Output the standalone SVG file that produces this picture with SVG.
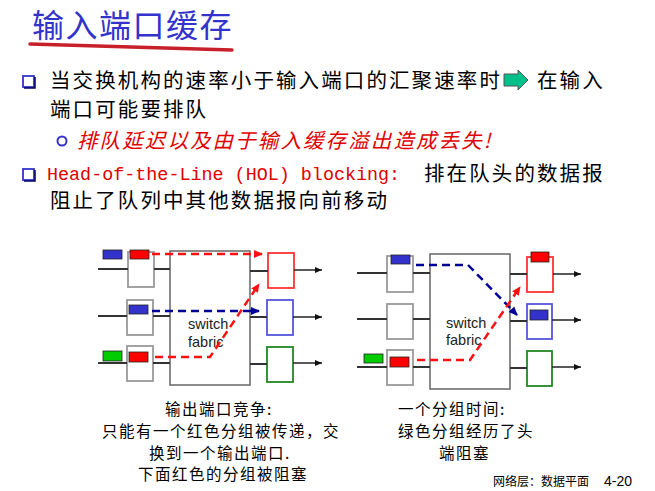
<svg xmlns="http://www.w3.org/2000/svg" width="655" height="491" viewBox="0 0 655 491">
<style>
.cjk{font-family:"Noto Sans CJK SC","Noto Sans CJK JP",sans-serif;}
.body{font-size:20.5px;letter-spacing:2.1px;fill:#000;}
.red{fill:#e00000;}
.cap{font-size:15.5px;letter-spacing:1.5px;fill:#000;}
.mono{font-family:"Liberation Mono","DejaVu Sans Mono",monospace;font-size:18.4px;fill:#e00000;letter-spacing:0;}
.lbl{font-family:"Liberation Sans",Arial,sans-serif;font-size:14.5px;fill:#222;}
.port{stroke:#333;stroke-width:2;fill:none;}
.inbox{fill:#fff;stroke:#999;stroke-width:1.8;}
.fab{fill:#fff;stroke:#666;stroke-width:1.5;}
.out{fill:none;stroke:#222;stroke-width:1.5;}
.dr{fill:none;stroke:#ff1010;stroke-width:2.5;stroke-dasharray:8,5;}
.db{fill:none;stroke:#000099;stroke-width:2.5;stroke-dasharray:8,5;}
.pb{fill:#3333cc;stroke:#222;stroke-width:0.8;}
.pr{fill:#ff0000;stroke:#222;stroke-width:0.8;}
.pg{fill:#00cc00;stroke:#222;stroke-width:0.8;}
.bul{fill:#fff;stroke:#3333cc;stroke-width:1.8;}
</style>
<defs>
<marker id="ak" markerWidth="8" markerHeight="8" refX="7" refY="4" orient="auto" markerUnits="userSpaceOnUse"><path d="M0,1 L7,4 L0,7 Z" fill="#111"/></marker>
<marker id="ar" markerWidth="10" markerHeight="10" refX="8" refY="5" orient="auto" markerUnits="userSpaceOnUse"><path d="M0,1 L9,5 L0,9 Z" fill="#ff1010"/></marker>
<marker id="ab" markerWidth="10" markerHeight="10" refX="8" refY="5" orient="auto" markerUnits="userSpaceOnUse"><path d="M0,1 L9,5 L0,9 Z" fill="#000099"/></marker>
</defs>
<rect width="655" height="491" fill="#fff"/>

<g id="title">
<text x="32" y="37" class="cjk" font-size="32" letter-spacing="1.5" fill="#3333cc">输入端口缓存</text>
<path d="M30,44 Q130,47 232,50" fill="none" stroke="#c8202a" stroke-width="3.5" stroke-linecap="round"/>
</g>

<g id="bullets">
<rect x="23" y="76" width="11" height="11" class="bul"/>
<path d="M35,77 V88 H24" fill="none" stroke="#000066" stroke-width="1.5"/>
<text x="50" y="88" class="cjk body">当交换机构的速率小于输入端口的汇聚速率时</text>
<polygon points="504,74 518,74 518,70 528,80 518,90 518,86 504,86" fill="#00c08a" stroke="#555" stroke-width="1"/>
<text x="537" y="88" class="cjk body">在输入</text>
<text x="50" y="117" class="cjk body">端口可能要排队</text>
<circle cx="62" cy="141" r="4.5" fill="#fff" stroke="#3333cc" stroke-width="2"/>
<text x="77" y="148" class="cjk body red" font-style="italic">排队延迟以及由于输入缓存溢出造成丢失!</text>
<rect x="23" y="169" width="11" height="11" class="bul"/>
<path d="M35,170 V181 H24" fill="none" stroke="#000066" stroke-width="1.5"/>
<text x="47" y="180" class="mono">Head-of-the-Line (HOL) blocking:</text>
<text x="424" y="181" class="cjk body">排在队头的数据报</text>
<text x="50" y="208" class="cjk body">阻止了队列中其他数据报向前移动</text>
</g>

<g id="left-diagram">
<g id="L-in1"><rect x="128" y="252" width="26" height="35" class="inbox"/></g>
<g id="L-in2"><rect x="127" y="300" width="26" height="35" class="inbox"/></g>
<g id="L-in3"><rect x="127" y="346" width="26" height="35" class="inbox"/></g>
<g id="L-fabric"><rect x="170" y="251" width="80" height="134" class="fab"/>
<text x="188" y="329" class="lbl">switch</text><text x="188" y="347" class="lbl">fabric</text></g>
<g id="L-out1"><rect x="268" y="253" width="26" height="35" fill="#fff" stroke="#ff3333" stroke-width="1.8"/></g>
<g id="L-out2"><rect x="267" y="300" width="26" height="35" fill="#fff" stroke="#5555dd" stroke-width="1.8"/></g>
<g id="L-out3"><rect x="267" y="347" width="26" height="35" fill="#fff" stroke="#228822" stroke-width="1.8"/></g>
<g id="L-packets">
<rect x="103" y="250" width="19" height="9" class="pb"/>
<rect x="130" y="250" width="19" height="9" class="pr"/>
<rect x="129" y="305" width="19" height="9" class="pb"/>
<rect x="129" y="352" width="19" height="10" class="pr"/>
<rect x="103" y="351" width="19" height="10" class="pg"/>
</g>
</g>

<g id="right-diagram">
<g id="R-in1"><rect x="387" y="256" width="26" height="36" class="inbox"/></g>
<g id="R-in2"><rect x="387" y="304" width="26" height="35" class="inbox"/></g>
<g id="R-in3"><rect x="387" y="350" width="26" height="35" class="inbox"/></g>
<g id="R-fabric"><rect x="430" y="254" width="80" height="135" class="fab"/>
<text x="446" y="328" class="lbl">switch</text><text x="446" y="345" class="lbl">fabric</text></g>
<g id="R-out1"><rect x="527" y="257" width="26" height="35" fill="#fff" stroke="#ff3333" stroke-width="1.8"/></g>
<g id="R-out2"><rect x="527" y="304" width="25" height="35" fill="#fff" stroke="#5555dd" stroke-width="1.8"/></g>
<g id="R-out3"><rect x="527" y="351" width="25" height="35" fill="#fff" stroke="#228822" stroke-width="1.8"/></g>
<g id="R-packets">
<rect x="391" y="255" width="19" height="9" class="pb"/>
<rect x="390" y="357" width="19" height="10" class="pr"/>
<rect x="364" y="354" width="19" height="9" class="pg"/>
<rect x="531" y="252" width="18" height="10" class="pr"/>
<rect x="530" y="310" width="18" height="10" class="pb"/>
</g>
</g>

<g id="connectors">
<path d="M98,269 H128 M154,269 H170 M98,316 H127 M153,316 H170 M98,363 H127 M153,363 H170" class="port"/>
<path d="M250,271 H268 M250,317 H267 M250,364 H267" class="port"/>
<path d="M294,270 H322" class="out" marker-end="url(#ak)"/>
<path d="M293,317 H322" class="out" marker-end="url(#ak)"/>
<path d="M293,363 H322" class="out" marker-end="url(#ak)"/>
<path d="M152,254 H262" class="dr" marker-end="url(#ar)"/>
<path d="M152,311 H259" class="db" marker-end="url(#ab)"/>
<path d="M155,357 H210 L259,284" class="dr" marker-end="url(#ar)"/>

<path d="M357,273 H387 M413,273 H430 M357,319 H387 M413,319 H430 M357,367 H387 M413,367 H430" class="port"/>
<path d="M510,274 H527 M510,321 H527 M510,368 H527" class="port"/>
<path d="M553,274 H581" class="out" marker-end="url(#ak)"/>
<path d="M552,320 H581" class="out" marker-end="url(#ak)"/>
<path d="M552,367 H581" class="out" marker-end="url(#ak)"/>
<path d="M416,265 H468 L517,315" class="db" marker-end="url(#ab)"/>
<path d="M417,360 H470 L520,287" class="dr" marker-end="url(#ar)"/>
</g>

<g id="captions">
<text x="165" y="415" class="cjk cap">输出端口竞争:</text>
<text x="102" y="437" class="cjk cap">只能有一个红色分组被传递，交</text>
<text x="149" y="459" class="cjk cap">换到一个输出端口.</text>
<text x="138" y="480" class="cjk cap">下面红色的分组被阻塞</text>
<text x="398" y="415" class="cjk cap">一个分组时间:</text>
<text x="398" y="437" class="cjk cap">绿色分组经历了头</text>
<text x="439" y="459" class="cjk cap">端阻塞</text>
<text x="493" y="486" class="cjk" font-size="12" fill="#000">网络层：数据平面</text>
<text x="604" y="486" font-family="Liberation Sans,Arial,sans-serif" font-size="14" fill="#000">4-20</text>
</g>
</svg>
